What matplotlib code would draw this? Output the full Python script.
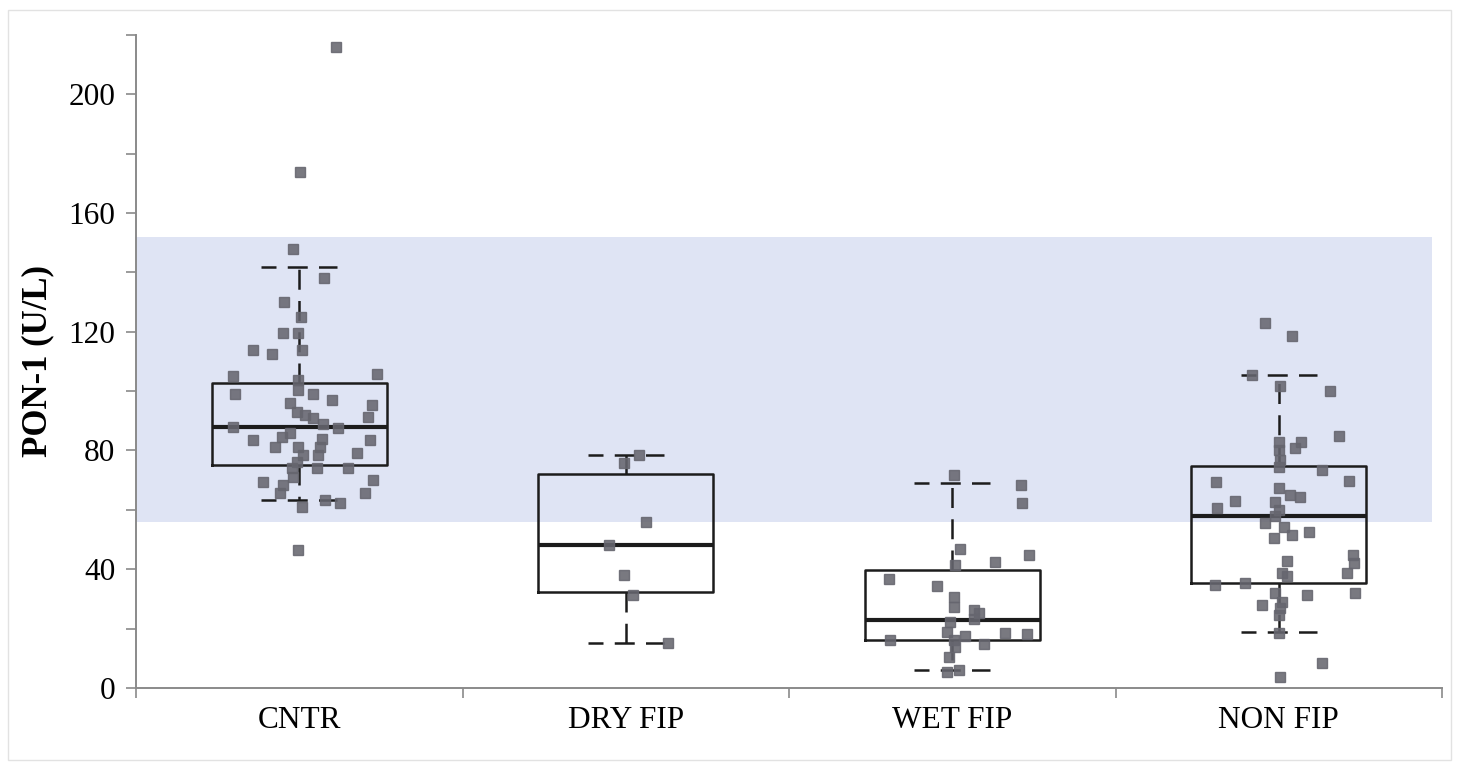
import matplotlib
matplotlib.use("Agg")
import matplotlib.pyplot as plt
from matplotlib.patches import Rectangle
from matplotlib.ticker import MultipleLocator, FuncFormatter

plt.rcParams["font.family"] = ["Liberation Serif", "DejaVu Serif"]

GROUPS = ["CNTR", "DRY FIP", "WET FIP", "NON FIP"]

# box statistics per group (U/L)
box_q1 = [75.0, 32.3, 16.2, 35.4]
box_med = [88.0, 48.1, 22.9, 57.9]
box_q3 = [102.7, 72.0, 39.7, 74.7]
whisk_lo = [63.3, 15.2, 6.1, 18.9]
whisk_hi = [141.8, 78.5, 69.0, 105.4]

# reference interval shown as a band
ref_lo, ref_hi = 56.0, 152.0

# individual measurements, with their horizontal jitter (fraction of a category)
cntr_vals = [216, 173.7, 148, 138, 130, 125, 119.5, 119.5, 114, 112.5, 114, 105, 105.7,
             103.7, 99, 100.3, 99, 97, 95.3, 91.3, 96, 93, 92, 91, 88, 89, 87.5, 83.5,
             84.5, 86, 84, 83.5, 81, 81, 81, 78.5, 78.5, 79, 76, 74, 74, 74, 71, 70,
             69.4, 68.4, 65.7, 65.7, 63.3, 62.3, 61, 46.5]
cntr_jit = [0.113, 0.003, -0.018, 0.077, -0.046, 0.006, -0.049, -0.003, -0.141, -0.083,
            0.009, -0.202, 0.239, -0.003, -0.196, -0.003, 0.043, 0.101, 0.224, 0.212,
            -0.028, -0.006, 0.018, 0.043, -0.202, 0.074, 0.12, -0.141, -0.052, -0.028,
            0.071, 0.218, -0.074, -0.003, 0.064, 0.012, 0.058, 0.178, -0.006, -0.021,
            0.055, 0.15, -0.018, 0.227, -0.11, -0.049, 0.202, -0.058, 0.08, 0.126,
            0.009, -0.003]

dry_vals = [78.5, 75.7, 56, 48.1, 38, 31.3, 15.2]
dry_jit = [0.04, -0.006, 0.061, -0.052, -0.006, 0.021, 0.129]

wet_vals = [71.7, 68.4, 62.3, 46.8, 42.4, 44.8, 41.4, 36.7, 34.3, 30.6, 27.3, 26.3, 25.3,
            23.2, 22.2, 18.9, 17.5, 18.5, 18.2, 16.2, 16.2, 13.8, 14.8, 10.4, 5.4, 6.1]
wet_jit = [0.006, 0.209, 0.215, 0.025, 0.132, 0.236, 0.009, -0.193, -0.046, 0.006, 0.006,
           0.067, 0.083, 0.067, -0.006, -0.015, 0.04, 0.16, 0.23, -0.19, 0.006, 0.009,
           0.098, -0.009, -0.015, 0.021]

non_vals = [122.9, 118.5, 105.4, 101.7, 100, 84.8, 82.8, 82.8, 80.8, 80.1, 76.8, 73.4,
            74.4, 69.7, 69.4, 67.3, 64.3, 65, 63, 60.6, 62.6, 59.9, 57.9, 55.6, 54.2,
            50.5, 51.5, 52.5, 42.8, 44.8, 42, 38.7, 38.7, 37.7, 34.7, 35.4, 32, 31.3, 32,
            29, 27.9, 26.9, 24.6, 18.5, 8.4, 3.7]
non_jit = [-0.043, 0.04, -0.083, 0.003, 0.156, 0.184, 0, 0.067, 0.049, 0, 0.003, 0.132,
           0, 0.215, -0.193, 0, 0.064, 0.034, -0.135, -0.19, -0.012, 0, -0.012, -0.043,
           0.015, -0.015, 0.04, 0.092, 0.025, 0.227, 0.23, 0.209, 0.009, 0.025, -0.196,
           -0.104, 0.233, 0.086, -0.012, 0.009, -0.052, 0.003, 0, 0, 0.132, 0.003]

points = [(cntr_vals, cntr_jit), (dry_vals, dry_jit), (wet_vals, wet_jit), (non_vals, non_jit)]

INK = "#1c1c1c"
AXC = "#8a8a8a"
BAND = "#dfe4f4"
DOT = "#66666f"

fig = plt.figure(figsize=(14.59, 7.73), dpi=100)
ax = fig.add_axes([0.0932, 0.110, 0.8952, 0.845])

# thin frame round the whole figure
fig.patches.append(Rectangle((0.0055, 0.017), 0.989, 0.970, transform=fig.transFigure,
                             fill=False, ec="#e2e2e2", lw=1.0))

ax.axhspan(ref_lo, ref_hi, xmin=0, xmax=0.992, color=BAND, lw=0, zorder=0)

stats = [dict(q1=a, med=m, q3=b, whislo=lo, whishi=hi, fliers=[])
         for a, m, b, lo, hi in zip(box_q1, box_med, box_q3, whisk_lo, whisk_hi)]
dash = (0, (8, 4.5))
ax.bxp(stats, positions=range(len(GROUPS)), widths=0.537, capwidths=0.233,
       showfliers=False, patch_artist=False, manage_ticks=False,
       boxprops=dict(color=INK, lw=1.8),
       medianprops=dict(color=INK, lw=3.0),
       whiskerprops=dict(color=INK, lw=1.8, linestyle=dash),
       capprops=dict(color=INK, lw=1.8, linestyle=(2, (8, 4.5))), zorder=3)

for i, (vals, jit) in enumerate(points):
    ax.plot([i + j for j in jit], vals, ls="none", marker="s", ms=7,
            mfc=DOT, mec=DOT, alpha=0.88, zorder=4)

ax.set_xlim(-0.5, 3.5)
ax.set_ylim(0, 220)
ax.set_xticks([-0.5, 0.5, 1.5, 2.5, 3.5])
ax.set_xticklabels([])
ax.set_xticks(range(len(GROUPS)), GROUPS, minor=True)
ax.tick_params(axis="x", which="major", direction="out", length=7, width=1.2, color=AXC)
ax.tick_params(axis="x", which="minor", length=0, pad=13, labelsize=22.5)

ax.yaxis.set_major_locator(MultipleLocator(20))
ax.yaxis.set_major_formatter(FuncFormatter(lambda v, p: f"{v:.0f}" if v % 40 == 0 else ""))
ax.tick_params(axis="y", direction="out", length=7, width=1.2, color=AXC, labelsize=22.5, pad=8)

for s in ("top", "right"):
    ax.spines[s].set_visible(False)
for s in ("left", "bottom"):
    ax.spines[s].set_color(AXC)
    ax.spines[s].set_linewidth(1.4)

ax.set_ylabel("PON-1 (U/L)", fontsize=25, fontweight="bold", labelpad=10)

fig.savefig("out.png", dpi=100)
